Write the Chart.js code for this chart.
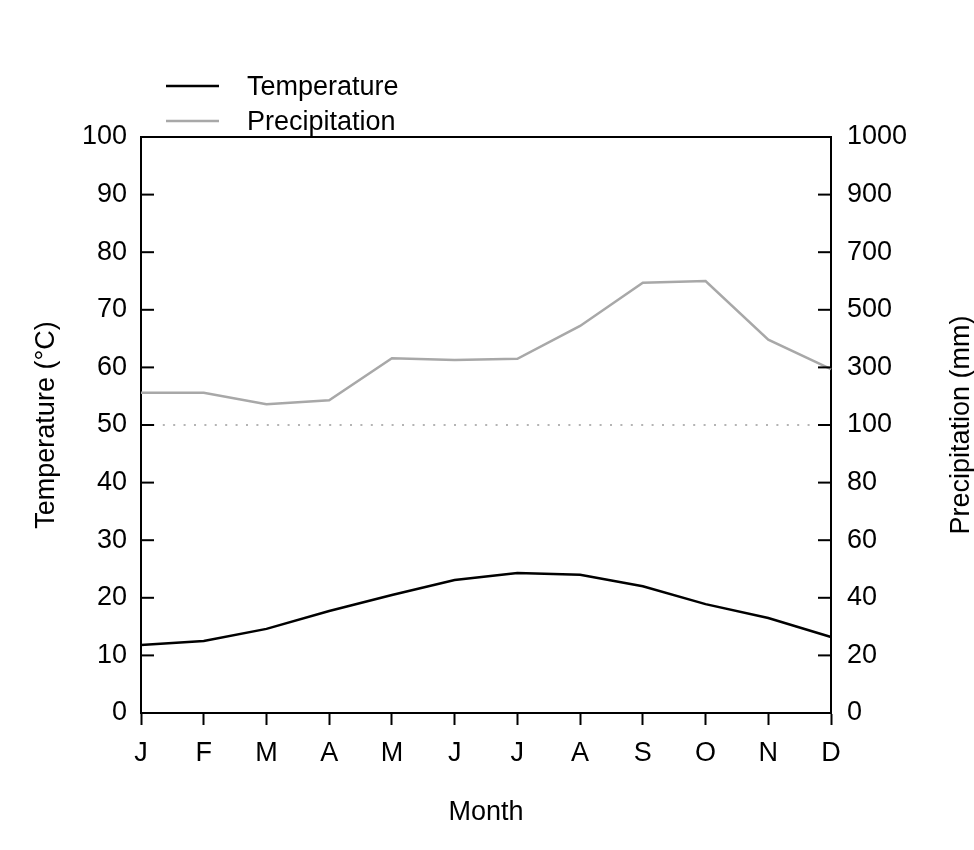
<!DOCTYPE html>
<html>
<head>
<meta charset="utf-8">
<script src="https://cdn.jsdelivr.net/npm/chart.js@4"></script>
<style>
  html, body { margin: 0; padding: 0; background: #fff; }
</style>
</head>
<body>
<canvas id="climate" width="974" height="850"></canvas>
<script>
const months = ['J', 'F', 'M', 'A', 'M', 'J', 'J', 'A', 'S', 'O', 'N', 'D'];
const temperature = [11.8, 12.5, 14.6, 17.7, 20.5, 23.1, 24.3, 24.0, 22.0, 18.9, 16.5, 13.2];
const precipitation = [212, 212, 172, 186, 332, 326, 330, 444, 594, 600, 396, 294]; // mm
const refPrecip = 100; // mm, dotted line
const leftTickLabels = ['0', '10', '20', '30', '40', '50', '60', '70', '80', '90', '100'];
const rightTickLabels = ['0', '20', '40', '60', '80', '100', '300', '500', '700', '900', '1000'];

// Walter-Lieth style: 10 °C = 20 mm up to 100 mm, then compressed
const mmToScale = mm => mm <= 100 ? mm / 2 : 50 + (mm - 100) / 20;

const FONT = "'Liberation Sans', Arial, sans-serif";
const FSIZE = 27;
Chart.defaults.font.family = FONT;
Chart.defaults.font.size = FSIZE;
Chart.defaults.color = '#000';

const extras = {
    id: 'extras',
    afterDraw(chart) {
        const ctx = chart.ctx;
        const area = chart.chartArea;
        const yl = chart.scales.y;
        const yr = chart.scales.y2;
        ctx.save();
        ctx.strokeStyle = '#000';
        ctx.lineWidth = 2;
        // top border
        ctx.beginPath();
        ctx.moveTo(area.left - 1, area.top);
        ctx.lineTo(area.right + 1, area.top);
        ctx.stroke();
        // inward ticks
        yl.ticks.forEach(t => {
            const y = yl.getPixelForValue(t.value);
            ctx.beginPath();
            ctx.moveTo(area.left, y);
            ctx.lineTo(area.left + 13, y);
            ctx.stroke();
        });
        yr.ticks.forEach(t => {
            const y = yr.getPixelForValue(t.value);
            ctx.beginPath();
            ctx.moveTo(area.right, y);
            ctx.lineTo(area.right - 13, y);
            ctx.stroke();
        });

        // legend
        const items = [chart.data.datasets[0], chart.data.datasets[1]];
        ctx.font = FSIZE + 'px ' + FONT;
        ctx.textBaseline = 'middle';
        ctx.textAlign = 'left';
        items.forEach((ds, i) => {
            const y = 86 + i * 35;
            ctx.strokeStyle = ds.borderColor;
            ctx.lineWidth = 2.5;
            ctx.beginPath();
            ctx.moveTo(166, y);
            ctx.lineTo(219, y);
            ctx.stroke();
            ctx.fillStyle = '#000';
            ctx.fillText(ds.label, 247, y + 2);
        });

        // right axis title, reading bottom to top
        ctx.translate(962, (area.top + area.bottom) / 2);
        ctx.rotate(-Math.PI / 2);
        ctx.textAlign = 'center';
        ctx.fillText('Precipitation (mm)', 0, 0);
        ctx.restore();
    }
};

new Chart(document.getElementById('climate'), {
    type: 'line',
    data: {
        labels: months,
        datasets: [{
            label: 'Temperature',
            data: temperature,
            borderColor: '#000',
            borderWidth: 2.5,
            pointRadius: 0,
            tension: 0,
            clip: false,
            yAxisID: 'y'
        }, {
            label: 'Precipitation',
            data: precipitation.map(mmToScale),
            borderColor: '#a8a8a8',
            borderWidth: 2.5,
            pointRadius: 0,
            tension: 0,
            clip: false,
            yAxisID: 'y'
        }, {
            label: 'ref',
            data: months.map(() => mmToScale(refPrecip)),
            borderColor: '#b4b4b4',
            borderWidth: 2,
            borderDash: [2, 8.4],
            borderDashOffset: -1,
            pointRadius: 0,
            yAxisID: 'y'
        }]
    },
    options: {
        responsive: false,
        animation: false,
        devicePixelRatio: 1,
        layout: { padding: { top: 137, left: 0, right: 0, bottom: 0 } },
        plugins: {
            legend: { display: false },
            tooltip: { enabled: false }
        },
        scales: {
            x: {
                offset: false,
                grid: { drawOnChartArea: false, tickLength: 12, tickWidth: 2, tickColor: '#000' },
                border: { color: '#000', width: 2 },
                ticks: { padding: 12, maxRotation: 0 },
                title: { display: true, text: 'Month', padding: { top: 0, bottom: 21 } },
                afterFit: s => { s.height = 137; }
            },
            y: {
                position: 'left',
                min: 0, max: 100,
                grid: { drawOnChartArea: false, drawTicks: false },
                border: { color: '#000', width: 2 },
                ticks: { stepSize: 10, padding: 14, callback: (v, i) => leftTickLabels[i] },
                title: { display: true, text: 'Temperature (°C)', padding: { top: 30, bottom: 0 } },
                afterFit: s => { s.width = 141; }
            },
            y2: {
                position: 'right',
                min: 0, max: 100,
                grid: { drawOnChartArea: false, drawTicks: false },
                border: { color: '#000', width: 2 },
                ticks: { stepSize: 10, padding: 16, callback: (v, i) => rightTickLabels[i] },
                afterFit: s => { s.width = 143; }
            }
        }
    },
    plugins: [extras]
});
</script>
</body>
</html>
